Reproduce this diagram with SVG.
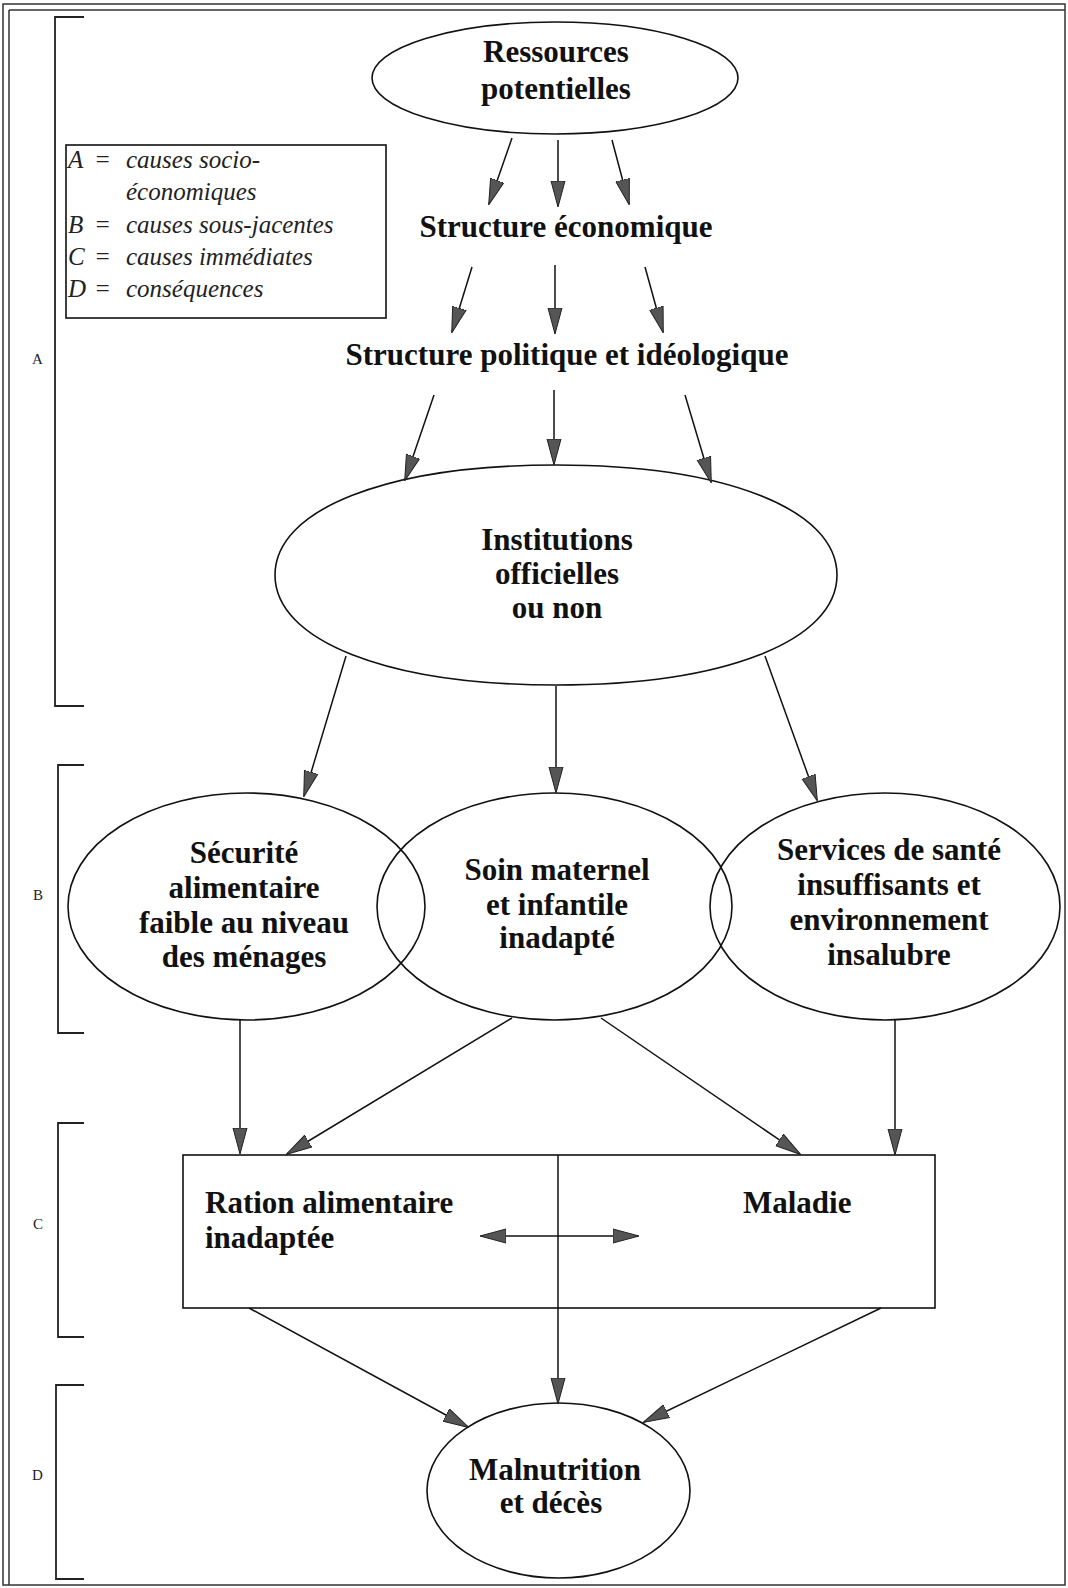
<svg xmlns="http://www.w3.org/2000/svg" width="1068" height="1588" viewBox="0 0 1068 1588">
  <defs>
    <marker id="ah" markerUnits="userSpaceOnUse" markerWidth="26" markerHeight="16" viewBox="0 0 26 16" refX="25" refY="8" orient="auto-start-reverse">
      <path d="M0,1 L26,8 L0,15 Z" fill="#555" stroke="#222" stroke-width="1"/>
    </marker>
    <style>
      .frame { fill: none; stroke: #333; stroke-width: 1.5; }
      .shape { fill: none; stroke: #111; stroke-width: 1.6; }
      .conn { fill: none; stroke: #111; stroke-width: 1.5; marker-end: url(#ah); }
      .brk { fill: none; stroke: #222; stroke-width: 1.8; }
      .t { font-family: "Liberation Serif", "Times New Roman", serif; font-weight: bold; font-size: 31px; fill: #111; text-anchor: middle; }
      .tl { font-family: "Liberation Serif", "Times New Roman", serif; font-weight: bold; font-size: 31px; fill: #111; }
      .lg { font-family: "Liberation Serif", "Times New Roman", serif; font-style: italic; font-size: 25px; fill: #222; }
      .lab { font-family: "Liberation Serif", "Times New Roman", serif; font-size: 15px; fill: #222; }
    </style>
  </defs>
  <rect x="0" y="0" width="1068" height="1588" fill="#fff"/>

  <!-- page frame -->
  <g id="frame">
    <rect class="frame" x="3" y="4" width="1062" height="1581"/>
    <line class="frame" x1="9" y1="10" x2="9" y2="1585"/>
    <line class="frame" x1="9" y1="10" x2="1065" y2="10"/>
  </g>

  <!-- level brackets -->
  <g id="brackets">
    <path class="brk" d="M84,17 H55 V706 H84"/>
    <path class="brk" d="M84,765 H58 V1033 H84"/>
    <path class="brk" d="M84,1123 H58 V1337 H84"/>
    <path class="brk" d="M84,1385 H56 V1579 H84"/>
    <text class="lab" x="32" y="364">A</text>
    <text class="lab" x="33" y="900">B</text>
    <text class="lab" x="33" y="1229">C</text>
    <text class="lab" x="32" y="1480">D</text>
  </g>

  <!-- legend -->
  <g id="legend">
    <rect class="shape" x="66" y="145" width="320" height="173" stroke-width="1.5"/>
    <text class="lg" x="68" y="168">A</text><text class="lg" x="94" y="168" font-style="normal">=</text><text class="lg" x="126" y="168">causes socio-</text>
    <text class="lg" x="126" y="200">économiques</text>
    <text class="lg" x="68" y="233">B</text><text class="lg" x="94" y="233" font-style="normal">=</text><text class="lg" x="126" y="233">causes sous-jacentes</text>
    <text class="lg" x="68" y="265">C</text><text class="lg" x="94" y="265" font-style="normal">=</text><text class="lg" x="126" y="265">causes immédiates</text>
    <text class="lg" x="68" y="297">D</text><text class="lg" x="94" y="297" font-style="normal">=</text><text class="lg" x="126" y="297">conséquences</text>
  </g>

  <!-- nodes -->
  <g id="ressources">
    <ellipse class="shape" cx="555" cy="78" rx="183" ry="56"/>
    <text class="t" x="556" y="62">Ressources</text>
    <text class="t" x="556" y="99">potentielles</text>
  </g>
  <g id="structure-economique">
    <text class="t" x="566" y="237">Structure économique</text>
  </g>
  <g id="structure-politique">
    <text class="t" x="567" y="365">Structure politique et idéologique</text>
  </g>
  <g id="institutions">
    <path class="shape" d="M275,575 C275,509 387.6,465 556,465 C724.6,465 837,509 837,575 C837,641 724.6,685 556,685 C387.6,685 275,641 275,575 Z"/>
    <text class="t" x="557" y="550">Institutions</text>
    <text class="t" x="557" y="584">officielles</text>
    <text class="t" x="557" y="618">ou non</text>
  </g>
  <g id="securite">
    <ellipse class="shape" cx="246.5" cy="906.5" rx="178.5" ry="113.5"/>
    <text class="t" x="244" y="863">Sécurité</text>
    <text class="t" x="244" y="898">alimentaire</text>
    <text class="t" x="244" y="933">faible au niveau</text>
    <text class="t" x="244" y="967">des ménages</text>
  </g>
  <g id="soin">
    <ellipse class="shape" cx="554.5" cy="906.5" rx="177.5" ry="113.5"/>
    <text class="t" x="557" y="880">Soin maternel</text>
    <text class="t" x="557" y="915">et infantile</text>
    <text class="t" x="557" y="948">inadapté</text>
  </g>
  <g id="services">
    <ellipse class="shape" cx="885" cy="906.5" rx="175" ry="113.5"/>
    <text class="t" x="889" y="860">Services de santé</text>
    <text class="t" x="889" y="895">insuffisants et</text>
    <text class="t" x="889" y="930">environnement</text>
    <text class="t" x="889" y="965">insalubre</text>
  </g>
  <g id="causes-immediates">
    <rect class="shape" x="183" y="1155" width="752" height="153"/>
    <text class="tl" x="205" y="1213">Ration alimentaire</text>
    <text class="tl" x="205" y="1248">inadaptée</text>
    <text class="tl" x="743" y="1213">Maladie</text>
  </g>
  <g id="malnutrition">
    <ellipse class="shape" cx="558.5" cy="1490.5" rx="131.5" ry="87.5"/>
    <text class="t" x="555" y="1480">Malnutrition</text>
    <text class="t" x="551" y="1513">et décès</text>
  </g>

  <!-- connectors -->
  <g id="connectors">
    <line class="conn" x1="512" y1="138" x2="489" y2="204"/>
    <line class="conn" x1="558" y1="140" x2="558" y2="206"/>
    <line class="conn" x1="612" y1="140" x2="629" y2="204"/>

    <line class="conn" x1="472" y1="267" x2="452" y2="332"/>
    <line class="conn" x1="555" y1="265" x2="555" y2="333"/>
    <line class="conn" x1="645" y1="267" x2="663" y2="332"/>

    <line class="conn" x1="434" y1="395" x2="405" y2="480"/>
    <line class="conn" x1="554" y1="390" x2="554" y2="464"/>
    <line class="conn" x1="685" y1="395" x2="711" y2="482"/>

    <line class="conn" x1="346" y1="656" x2="304" y2="796"/>
    <line class="conn" x1="556" y1="686" x2="556" y2="792"/>
    <line class="conn" x1="765" y1="656" x2="817" y2="800"/>

    <line class="conn" x1="240" y1="1020" x2="240" y2="1153"/>
    <line class="conn" x1="512" y1="1018" x2="287" y2="1154"/>
    <line class="conn" x1="601" y1="1018" x2="800" y2="1154"/>
    <line class="conn" x1="895" y1="1020" x2="895" y2="1154"/>

    <line class="conn" x1="481" y1="1236" x2="638" y2="1236" marker-start="url(#ah)"/>

    <line class="conn" x1="249" y1="1308" x2="468" y2="1427"/>
    <line class="conn" x1="558" y1="1155" x2="558" y2="1403"/>
    <line class="conn" x1="881" y1="1308" x2="644" y2="1422"/>
  </g>
</svg>
